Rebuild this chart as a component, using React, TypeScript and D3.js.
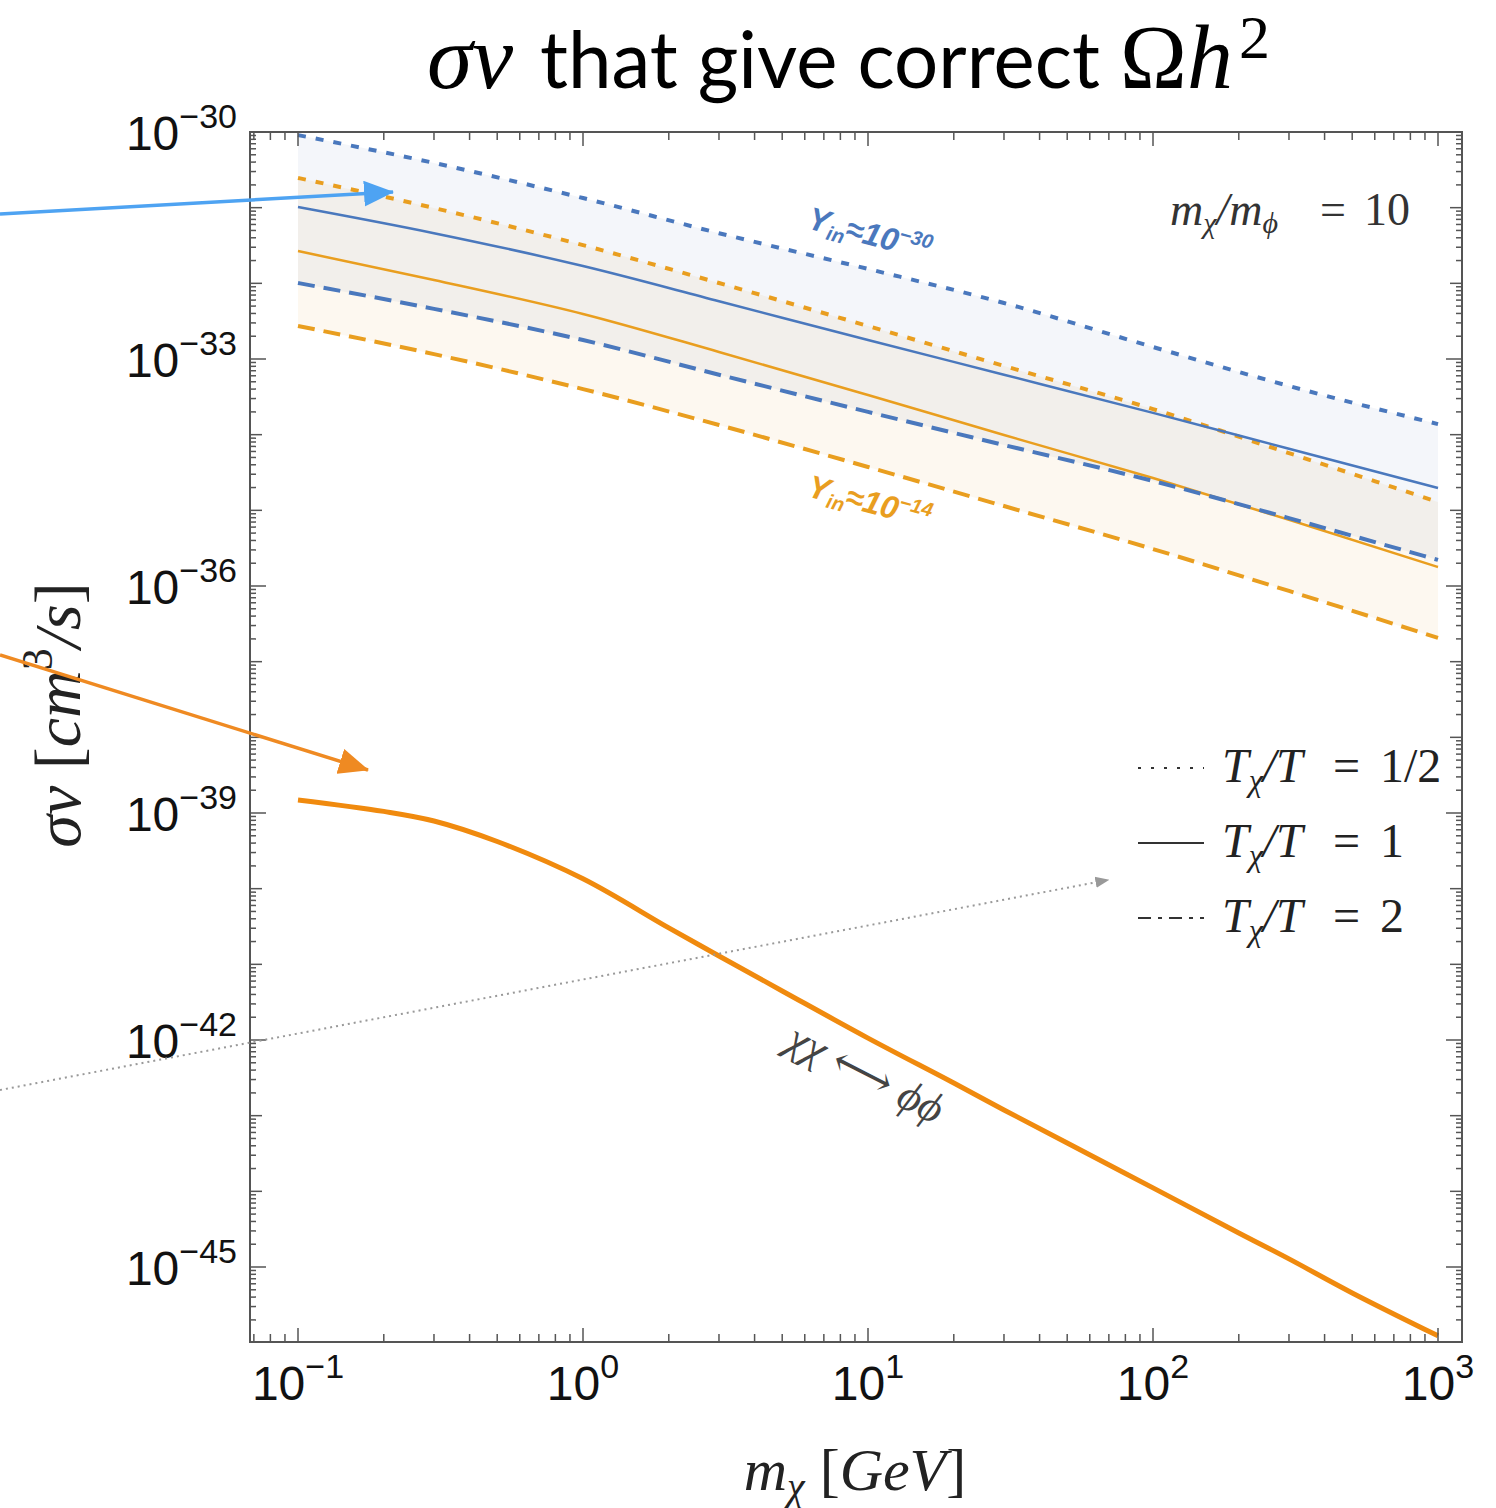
import * as d3 from "d3";

// masses (GeV) where the relic-density curves were read
const massGeV = [0.1, 0.3, 1, 3, 10, 30, 100, 300, 1000];

// sigma v [cm^3/s], Y_in = 1e-30 (blue) and Y_in = 1e-14 (orange)
const blueHalf = [9.1e-31, 3.9e-31, 1.34e-31, 4.6e-32, 1.55e-32, 5.5e-33, 1.44e-33, 4.4e-34, 1.38e-34];
const blueOne = [1.02e-31, 4.6e-32, 1.69e-32, 5.8e-33, 1.78e-33, 6.2e-34, 1.94e-34, 6.5e-35, 1.97e-35];
const blueTwo = [1.01e-32, 4.6e-33, 1.78e-33, 6.2e-34, 2.0e-34, 7.3e-35, 2.44e-35, 7.9e-36, 2.21e-36];
const orangeHalf = [2.47e-31, 9.9e-32, 3.2e-32, 1.01e-32, 2.73e-33, 8.1e-34, 2.18e-34, 5.7e-35, 1.29e-35];
const orangeOne = [2.67e-32, 1.11e-32, 3.94e-33, 1.24e-33, 3.34e-34, 9.9e-35, 2.67e-35, 7.5e-36, 1.78e-36];
const orangeTwo = [2.73e-33, 1.16e-33, 4.0e-34, 1.34e-34, 3.74e-35, 1.14e-35, 3.08e-36, 8.6e-37, 2.06e-37];

// chi chi <-> phi phi curve
const annMass = [0.1, 0.2, 0.3, 0.5, 1, 2, 3, 5, 10, 20, 30, 50, 100, 200, 300, 500, 1000];
const annSigma = [1.49e-39, 1.05e-39, 7.85e-40, 4.2e-40, 1.35e-40, 3.03e-41, 1.29e-41, 4.45e-42, 1.06e-42, 2.7e-43, 1.19e-43, 4.35e-44, 1.11e-44, 2.82e-45, 1.28e-45, 4.54e-46, 1.23e-46];

const xTickExps = [-1, 0, 1, 2, 3];
const yTickExps = [-30, -33, -36, -39, -42, -45];
const legendRatios = ["1/2", "1", "2"];

const BLUE = "#4a78bd";
const ORANGE = "#e99e1f";
const ANN = "#f08a0e";
const FRAME = "#555";

const W = 1496;
const H = 1508;
const left = 250, right = 1462, top = 132, bottom = 1342;

const x = d3.scaleLog().domain([0.1, 1000]).range([298, 1438]);
const y = d3.scaleLog().domain([1e-30, 1e-45]).range([132, 1267]);

const pts = (xs: number[], ys: number[]) => xs.map((m, i) => [m, ys[i]] as [number, number]);

const line = d3
  .line<[number, number]>()
  .x((d) => x(d[0]))
  .y((d) => y(d[1]))
  .curve(d3.curveMonotoneX);

const smoothLine = d3
  .line<[number, number]>()
  .x((d) => x(d[0]))
  .y((d) => y(d[1]))
  .curve(d3.curveCatmullRom.alpha(0.5));

const band = (hi: number[], lo: number[]) =>
  d3
    .area<number>()
    .x((m) => x(m))
    .y0((_, i) => y(lo[i]))
    .y1((_, i) => y(hi[i]))
    .curve(d3.curveMonotoneX)(massGeV) as string;

const serif = "'Liberation Serif', 'DejaVu Serif', serif";
const sans = "'Liberation Sans', Arial, sans-serif";

const xTicks = () => {
  const out: { v: number; major: boolean }[] = [];
  for (let k = -2; k <= 3; k++)
    for (let m = 1; m <= 9; m++) {
      const v = m * Math.pow(10, k);
      const px = x(v);
      if (px >= left && px <= right) out.push({ v, major: m === 1 });
    }
  return out;
};

const yTicks = () => {
  const out: { v: number; kind: number }[] = [];
  for (let k = -47; k <= -30; k++)
    for (let m = 1; m <= 9; m++) {
      const v = m * Math.pow(10, k);
      const py = y(v);
      if (py >= top - 0.5 && py <= bottom) out.push({ v, kind: m === 1 ? (k % 3 === 0 ? 2 : 1) : 0 });
    }
  return out;
};

const curves = [
  { ys: blueHalf, color: BLUE, dash: "8 10" },
  { ys: orangeHalf, color: ORANGE, dash: "8 10" },
  { ys: blueOne, color: BLUE, dash: "" },
  { ys: orangeOne, color: ORANGE, dash: "" },
  { ys: blueTwo, color: BLUE, dash: "17 9" },
  { ys: orangeTwo, color: ORANGE, dash: "17 9" },
];

const legendDash = ["3 10", "", "13 7 4 7"];

export default function App() {
  const xt = xTicks();
  const yt = yTicks();
  return (
    <svg width={W} height={H} style={{ position: "absolute", left: 0, top: 0, background: "#fff" }}>
      <defs>
        <marker id="hb" viewBox="0 0 30 26" refX="29" refY="13" markerWidth="30" markerHeight="26" orient="auto" markerUnits="userSpaceOnUse">
          <path d="M0,0L30,13L0,26z" fill="#4ea3f2" />
        </marker>
        <marker id="ho" viewBox="0 0 30 26" refX="29" refY="13" markerWidth="30" markerHeight="26" orient="auto" markerUnits="userSpaceOnUse">
          <path d="M0,0L30,13L0,26z" fill="#ef8a22" />
        </marker>
        <marker id="hg" viewBox="0 0 10 10" refX="9" refY="5" markerWidth="14" markerHeight="14" orient="auto" markerUnits="userSpaceOnUse">
          <path d="M0,1L10,5L0,9z" fill="#999" />
        </marker>
      </defs>

      {/* title */}
      <text x={427} y={88} fontFamily={serif} fontStyle="italic" fontSize={92}>σv</text>
      <text x={540} y={88} fontFamily="Lato, sans-serif" fontSize={80} textLength={560} lengthAdjust="spacingAndGlyphs">that give correct</text>
      <text x={1120} y={88} fontFamily={serif} fontSize={90}>
        <tspan>Ω</tspan>
        <tspan fontStyle="italic" fontSize={92}>h</tspan>
        <tspan fontSize={62} dy={-30} dx={6}>2</tspan>
      </text>

      {/* bands */}
      <path d={band(blueHalf, blueTwo)} fill="#5e81b5" opacity={0.07} />
      <path d={band(orangeHalf, orangeTwo)} fill="#e19c24" opacity={0.07} />

      {curves.map((c, i) => (
        <path key={i} d={line(pts(massGeV, c.ys)) as string} fill="none" stroke={c.color}
          strokeWidth={c.dash ? 4 : 2.5} strokeDasharray={c.dash || undefined} />
      ))}
      <path d={smoothLine(pts(annMass, annSigma)) as string} fill="none" stroke={ANN} strokeWidth={5} />

      {/* frame and ticks */}
      <rect x={left} y={top} width={right - left} height={bottom - top} fill="none" stroke={FRAME} strokeWidth={2} />
      {xt.map((t, i) => {
        const px = x(t.v);
        const len = t.major ? 14 : 8;
        return (
          <g key={"x" + i} stroke={FRAME} strokeWidth={1.5}>
            <line x1={px} x2={px} y1={bottom} y2={bottom - len} />
            <line x1={px} x2={px} y1={top} y2={top + len} />
          </g>
        );
      })}
      {yt.map((t, i) => {
        const py = y(t.v);
        const len = t.kind === 2 ? 16 : t.kind === 1 ? 12 : 6;
        return (
          <g key={"y" + i} stroke={FRAME} strokeWidth={1.5}>
            <line x1={left} x2={left + len} y1={py} y2={py} />
            <line x1={right} x2={right - len} y1={py} y2={py} />
          </g>
        );
      })}

      {/* tick labels */}
      {xTickExps.map((e) => (
        <text key={"xl" + e} x={x(Math.pow(10, e))} y={1400} textAnchor="middle" fontFamily={sans} fill="#111">
          <tspan fontSize={48}>10</tspan>
          <tspan fontSize={34} dy={-22}>{e < 0 ? "−" + -e : String(e)}</tspan>
        </text>
      ))}
      {yTickExps.map((e) => (
        <text key={"yl" + e} x={237} y={y(Math.pow(10, e)) + 18} textAnchor="end" fontFamily={sans} fill="#111">
          <tspan fontSize={48}>10</tspan>
          <tspan fontSize={34} dy={-22}>{"−" + -e}</tspan>
        </text>
      ))}

      {/* axis labels */}
      <text x={855} y={1490} textAnchor="middle" fontFamily={serif} fontSize={60} fill="#222">
        <tspan fontStyle="italic">m</tspan>
        <tspan fontStyle="italic" fontSize={40} dy={10}>χ</tspan>
        <tspan dy={-10}> [</tspan>
        <tspan fontStyle="italic">GeV</tspan>
        <tspan>]</tspan>
      </text>
      <text transform="translate(80,715) rotate(-90)" textAnchor="middle" fontFamily={serif} fontSize={66} fill="#222">
        <tspan fontStyle="italic">σv</tspan>
        <tspan> [</tspan>
        <tspan fontStyle="italic">cm</tspan>
        <tspan fontSize={44} dy={-28}>3</tspan>
        <tspan dy={28} fontStyle="italic">/s</tspan>
        <tspan>]</tspan>
      </text>

      {/* in-plot annotations */}
      <text y={225} fontFamily={serif} fontSize={46} fill="#333">
        <tspan x={1170} fontStyle="italic">m</tspan>
        <tspan fontStyle="italic" fontSize={30} dy={8}>χ</tspan>
        <tspan dy={-8} fontStyle="italic">/m</tspan>
        <tspan fontStyle="italic" fontSize={30} dy={8}>ϕ</tspan>
        <tspan x={1320} dy={-8}>=</tspan>
        <tspan x={1364}>10</tspan>
      </text>
      <text transform="translate(806,228) rotate(15)" fontFamily={sans} fontWeight="bold" fontStyle="italic" fontSize={32} fill={BLUE}>
        <tspan>Y</tspan>
        <tspan fontSize={20} dy={6}>in</tspan>
        <tspan dy={-6}>≈10</tspan>
        <tspan fontSize={20} dy={-12}>−30</tspan>
      </text>
      <text transform="translate(806,496) rotate(15)" fontFamily={sans} fontWeight="bold" fontStyle="italic" fontSize={32} fill={ORANGE}>
        <tspan>Y</tspan>
        <tspan fontSize={20} dy={6}>in</tspan>
        <tspan dy={-6}>≈10</tspan>
        <tspan fontSize={20} dy={-12}>−14</tspan>
      </text>
      <text transform="translate(784,1048) rotate(27)" fontFamily={serif} fontStyle="italic" fontSize={44} fill="#444">
        χχ ⟷ ϕϕ
      </text>

      {/* legend */}
      {legendRatios.map((r, i) => {
        const yy = 768 + i * 75;
        return (
          <g key={"lg" + i}>
            <line x1={1138} x2={1204} y1={yy} y2={yy} stroke="#333" strokeWidth={2} strokeDasharray={legendDash[i] || undefined} />
            <text y={yy + 14} fontFamily={serif} fontSize={48} fill="#222">
              <tspan x={1222} fontStyle="italic">T</tspan>
              <tspan fontStyle="italic" fontSize={32} dy={9}>χ</tspan>
              <tspan dy={-9} fontStyle="italic">/T</tspan>
              <tspan x={1333}>=</tspan>
              <tspan x={1380}>{r}</tspan>
            </text>
          </g>
        );
      })}

      {/* arrows pointing into the plot */}
      <line x1={0} y1={214} x2={393} y2={192} stroke="#4ea3f2" strokeWidth={3.5} markerEnd="url(#hb)" />
      <line x1={0} y1={655} x2={368} y2={770} stroke="#ef8a22" strokeWidth={3.5} markerEnd="url(#ho)" />
      <line x1={0} y1={1090} x2={1108} y2={880} stroke="#999" strokeWidth={2} strokeDasharray="2 4" markerEnd="url(#hg)" />
    </svg>
  );
}
